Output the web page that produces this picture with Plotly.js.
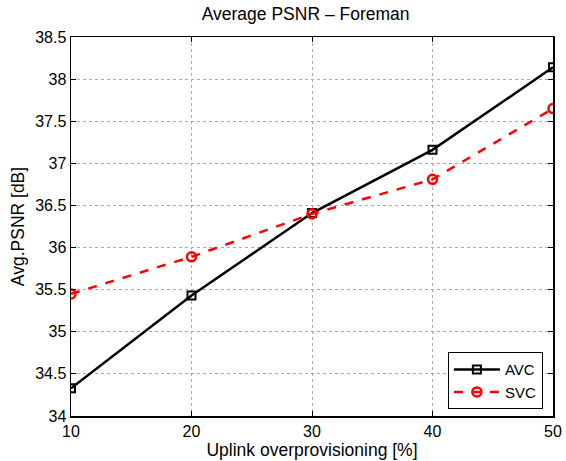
<!DOCTYPE html>
<html><head><meta charset="utf-8">
<script src="https://cdn.plot.ly/plotly-3.0.1.min.js"></script>
<style>body{margin:0;background:#fff}#c{width:566px;height:461px}</style>
</head><body><div id="c"></div>
<script>
const xVals = [10, 20, 30, 40, 50];
const avc = [34.33, 35.43, 36.41, 37.16, 38.14];
const svc = [35.45, 35.89, 36.40, 36.81, 37.65];
const yTicks = [34, 34.5, 35, 35.5, 36, 36.5, 37, 37.5, 38, 38.5];

const traces = [
  {x: xVals, y: avc, name: 'AVC', mode: 'lines+markers',
   line: {color: '#000', width: 2.5},
   marker: {symbol: 'square-open', size: 8, color: '#000', line: {width: 2}}},
  {x: xVals, y: svc, name: 'SVC', mode: 'lines+markers',
   line: {color: '#ff0000', width: 2.5, dash: 'dash'},
   marker: {symbol: 'circle-open', size: 9, color: '#ff0000', line: {width: 2.5}}}
];
const FONT = 'Liberation Sans, Arial, sans-serif';
const axBase = {showline: true, linecolor: '#000', linewidth: 1.5, mirror: 'ticks',
  ticks: 'inside', ticklen: 5, tickcolor: '#000', showgrid: true,
  gridcolor: '#aaa', griddash: 'dot', gridwidth: 1, zeroline: false,
  tickfont: {family: FONT, size: 16, color: '#000'}};
const layout = {
  width: 566, height: 461,
  margin: {l: 71, r: 13, t: 37, b: 45},
  paper_bgcolor: '#fff', plot_bgcolor: '#fff',
  font: {family: FONT, color: '#000'},
  title: {text: 'Average PSNR \u2013 Foreman', font: {size: 17.5, color: '#000'},
    x: 0.54, xanchor: 'center', y: 0.983, yanchor: 'top'},
  xaxis: Object.assign({}, axBase, {range: [10, 50], tickvals: xVals,
    title: {text: 'Uplink overprovisioning [%]', font: {size: 17.5}, standoff: 0}}),
  yaxis: Object.assign({}, axBase, {range: [34, 38.5], tickvals: yTicks,
    ticktext: yTicks.map(v => String(v)),
    title: {text: 'Avg.PSNR [dB]', font: {size: 17.5}, standoff: 6}}),
  legend: {x: 0.979, xanchor: 'right', y: 0.018, yanchor: 'bottom',
    bordercolor: '#000', borderwidth: 1, bgcolor: '#fff', itemwidth: 46,
    font: {size: 15, color: '#000'}, tracegroupgap: 0}
};
Plotly.newPlot('c', traces, layout, {displayModeBar: false, staticPlot: true});
</script></body></html>
